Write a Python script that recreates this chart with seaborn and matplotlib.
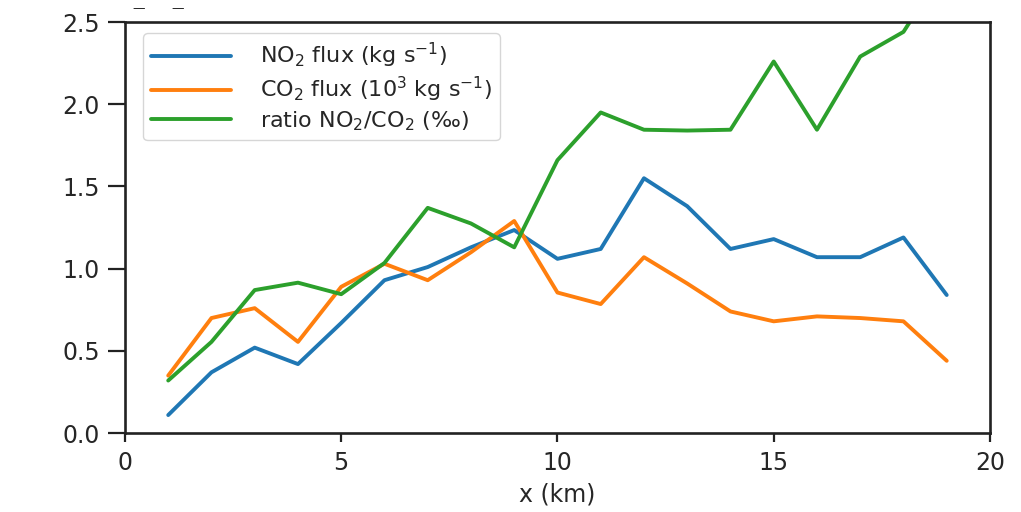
import numpy as np
import pandas as pd
import matplotlib
matplotlib.use("Agg")
import matplotlib.pyplot as plt
import seaborn as sns

# Data
x_km = [1, 2, 3, 4, 5, 6, 7, 8, 9, 10, 11, 12, 13, 14, 15, 16, 17, 18, 19]
no2_flux = [0.11, 0.37, 0.52, 0.42, 0.67, 0.93, 1.01, 1.13, 1.235, 1.06, 1.12,
            1.55, 1.38, 1.12, 1.18, 1.07, 1.07, 1.19, 0.84]
co2_flux = [0.35, 0.70, 0.76, 0.555, 0.89, 1.03, 0.93, 1.10, 1.29, 0.855, 0.785,
            1.07, 0.91, 0.74, 0.68, 0.71, 0.70, 0.68, 0.44]
ratio = [0.32, 0.555, 0.87, 0.915, 0.845, 1.035, 1.37, 1.275, 1.13, 1.66, 1.95,
         1.845, 1.84, 1.845, 2.26, 1.845, 2.29, 2.44, 2.85]
labels = [r'NO$_2$ flux (kg s$^{-1}$)',
          r'CO$_2$ flux (10$^3$ kg s$^{-1}$)',
          r'ratio NO$_2$/CO$_2$ (‰)']
colors = ['#1f77b4', '#ff7f0e', '#2ca02c']

df = pd.DataFrame({
    'x': x_km * 3,
    'value': no2_flux + co2_flux + ratio,
    'series': [labels[0]] * len(x_km) + [labels[1]] * len(x_km) + [labels[2]] * len(x_km),
})

sns.set_style("ticks")
plt.rcParams['font.family'] = ['DejaVu Sans']
plt.rcParams['font.size'] = 16

fig = plt.figure(figsize=(10.21, 5.12), dpi=100)
ax = fig.add_axes([0.1224, 0.154, 0.9696 - 0.1224, 0.957 - 0.154])

sns.lineplot(data=df, x='x', y='value', hue='series', palette=colors,
             hue_order=labels, linewidth=2.8, ax=ax)

ax.set_xlim(0, 20)
ax.set_ylim(0, 2.5)
ax.set_xticks([0, 5, 10, 15, 20])
ax.set_yticks([0.0, 0.5, 1.0, 1.5, 2.0, 2.5])
ax.set_yticklabels(['0.0', '0.5', '1.0', '1.5', '2.0', '2.5'])
ax.set_xlabel('x (km)', fontsize=17, labelpad=6)
ax.set_ylabel('')
ax.tick_params(axis='x', labelsize=17, length=6.5, width=1.6, pad=6, color='#222222')
ax.tick_params(axis='y', labelsize=17, length=12, width=1.6, pad=6, color='#222222')
for s in ax.spines.values():
    s.set_visible(True)
    s.set_linewidth(1.9)
    s.set_color('#222222')

leg = ax.legend(loc='upper left', bbox_to_anchor=(0.021, 0.973), borderaxespad=0,
                fontsize=16, handlelength=3.6, handletextpad=1.3,
                labelspacing=0.22, borderpad=0.35,
                frameon=True, framealpha=0.8, edgecolor='#cccccc')
for line in leg.get_lines():
    line.set_linewidth(2.8)

# partially visible marks at the top edge (remnant of a cropped title)
fig.text(0.1357, 0.984, '—', fontsize=9, color='#222222', ha='center', va='center')
fig.text(0.1738, 0.984, '—', fontsize=9, color='#222222', ha='center', va='center')

fig.savefig('out.png', dpi=100)
